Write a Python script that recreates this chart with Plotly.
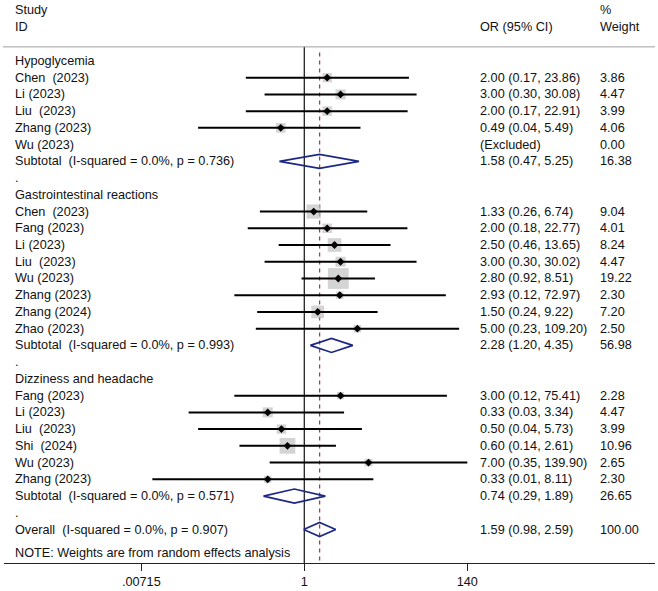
import numpy as np
import plotly.graph_objects as go

# rows of the forest plot, top to bottom (row index = position)
labels = [
    "Hypoglycemia",
    "Chen\u00a0 (2023)", "Li (2023)", "Liu\u00a0 (2023)", "Zhang (2023)", "Wu (2023)",
    "Subtotal\u00a0 (I-squared = 0.0%, p = 0.736)",
    ".",
    "Gastrointestinal reactions",
    "Chen\u00a0 (2023)", "Fang (2023)", "Li (2023)", "Liu\u00a0 (2023)", "Wu (2023)",
    "Zhang (2023)", "Zhang (2024)", "Zhao (2023)",
    "Subtotal\u00a0 (I-squared = 0.0%, p = 0.993)",
    ".",
    "Dizziness and headache",
    "Fang (2023)", "Li (2023)", "Liu\u00a0 (2023)", "Shi\u00a0 (2024)", "Wu (2023)", "Zhang (2023)",
    "Subtotal\u00a0 (I-squared = 0.0%, p = 0.571)",
    ".",
    "Overall\u00a0 (I-squared = 0.0%, p = 0.907)",
]
# kind: h = heading, s = study, x = excluded, d = pooled diamond, b = blank
kinds = ["h", "s", "s", "s", "s", "x", "d", "b",
         "h", "s", "s", "s", "s", "s", "s", "s", "s", "d", "b",
         "h", "s", "s", "s", "s", "s", "s", "d", "b", "d"]
est = [None, 2.00, 3.00, 2.00, 0.49, None, 1.58, None,
       None, 1.33, 2.00, 2.50, 3.00, 2.80, 2.93, 1.50, 5.00, 2.28, None,
       None, 3.00, 0.33, 0.50, 0.60, 7.00, 0.33, 0.74, None, 1.59]
lo = [None, 0.17, 0.30, 0.17, 0.04, None, 0.47, None,
      None, 0.26, 0.18, 0.46, 0.30, 0.92, 0.12, 0.24, 0.23, 1.20, None,
      None, 0.12, 0.03, 0.04, 0.14, 0.35, 0.01, 0.29, None, 0.98]
hi = [None, 23.86, 30.08, 22.91, 5.49, None, 5.25, None,
      None, 6.74, 22.77, 13.65, 30.02, 8.51, 72.97, 9.22, 109.20, 4.35, None,
      None, 75.41, 3.34, 5.73, 2.61, 139.90, 8.11, 1.89, None, 2.59]
weight = [None, 3.86, 4.47, 3.99, 4.06, 0.00, 16.38, None,
          None, 9.04, 4.01, 8.24, 4.47, 19.22, 2.30, 7.20, 2.50, 56.98, None,
          None, 2.28, 4.47, 3.99, 10.96, 2.65, 2.30, 26.65, None, 100.00]

tick_vals = [0.00715, 1, 140]
tick_text = [".00715", "1", "140"]
overall_or = 1.59

FONT = "Liberation Sans, Arial, Helvetica, sans-serif"
FS = 12.7
INK = "#111111"
NAVY = "#1c2884"

fig = go.Figure()

rows = list(range(len(labels)))
study = [i for i in rows if kinds[i] == "s"]
pooled = [i for i in rows if kinds[i] == "d"]

# reference lines
fig.add_trace(go.Scatter(x=[1, 1], y=[-0.84, 30], mode="lines",
                         line=dict(color="#222222", width=1.3), hoverinfo="skip"))
fig.add_trace(go.Scatter(x=[overall_or, overall_or], y=[-0.5, 30], mode="lines",
                         line=dict(color="#a23e4a", width=1.3, dash="4px,4px"),
                         hoverinfo="skip"))

# weight boxes
fig.add_trace(go.Scatter(
    x=[est[i] for i in study], y=study, mode="markers",
    marker=dict(symbol="square", color="#c2c2c2",
                size=[4.75 * np.sqrt(weight[i]) for i in study], line=dict(width=0)),
    hoverinfo="skip"))

# confidence intervals
cx, cy = [], []
for i in study:
    cx += [lo[i], hi[i], None]
    cy += [i, i, None]
fig.add_trace(go.Scatter(x=cx, y=cy, mode="lines",
                         line=dict(color="black", width=2), hoverinfo="skip"))

# point estimates
fig.add_trace(go.Scatter(x=[est[i] for i in study], y=study, mode="markers",
                         marker=dict(symbol="diamond", color="black", size=6),
                         hoverinfo="skip"))

# pooled diamonds
dx, dy = [], []
h = 0.42
for i in pooled:
    dx += [lo[i], est[i], hi[i], est[i], lo[i], None]
    dy += [i, i - h, i, i + h, i, None]
fig.add_trace(go.Scatter(x=dx, y=dy, mode="lines",
                         line=dict(color=NAVY, width=1.7), hoverinfo="skip"))

# text columns
L, R = 4, 3
W = 658 - L - R


def px(p):
    return (p - L) / W


ann = []


def txt(x, y, s):
    ann.append(dict(x=px(x), y=y, xref="paper", yref="y", text=s, showarrow=False,
                    xanchor="left", yanchor="middle",
                    font=dict(family=FONT, size=FS, color=INK)))


txt(13, -3.04, "Study")
txt(13, -2.05, "ID")
txt(477.5, -2.05, "OR (95% CI)")
txt(598, -3.04, "%")
txt(598, -2.05, "Weight")

for i in rows:
    txt(13, i, labels[i])
    if kinds[i] in ("s", "d"):
        txt(477.5, i, f"{est[i]:.2f} ({lo[i]:.2f}, {hi[i]:.2f})")
        txt(598, i, f"{weight[i]:.2f}")
    elif kinds[i] == "x":
        txt(477.5, i, "(Excluded)")
        txt(598, i, f"{weight[i]:.2f}")

txt(13, 29.4, "NOTE: Weights are from random effects analysis")

xmin = (L - 304.3) / 75.96
xmax = (658 - R - 304.3) / 75.96

fig.update_layout(
    width=658, height=591,
    margin=dict(l=L, r=R, t=0, b=28),
    paper_bgcolor="white", plot_bgcolor="white",
    showlegend=False,
    annotations=ann,
    shapes=[dict(type="line", xref="paper", yref="y", x0=px(3), x1=px(655),
                 y0=-0.84, y1=-0.84, line=dict(color="#a0a0a0", width=1))],
    xaxis=dict(type="log", range=[xmin, xmax], tickvals=tick_vals, ticktext=tick_text,
               showgrid=False, zeroline=False, showline=True, linecolor="#222222",
               linewidth=1.3, ticks="outside", ticklen=7, tickcolor="#222222",
               tickwidth=1.2, tickfont=dict(family=FONT, size=FS, color=INK)),
    yaxis=dict(range=[30, -3.64], visible=False, showgrid=False, zeroline=False),
)

fig.write_html("out.html", config={"displayModeBar": False},
               post_script="document.body.style.margin='0';")
